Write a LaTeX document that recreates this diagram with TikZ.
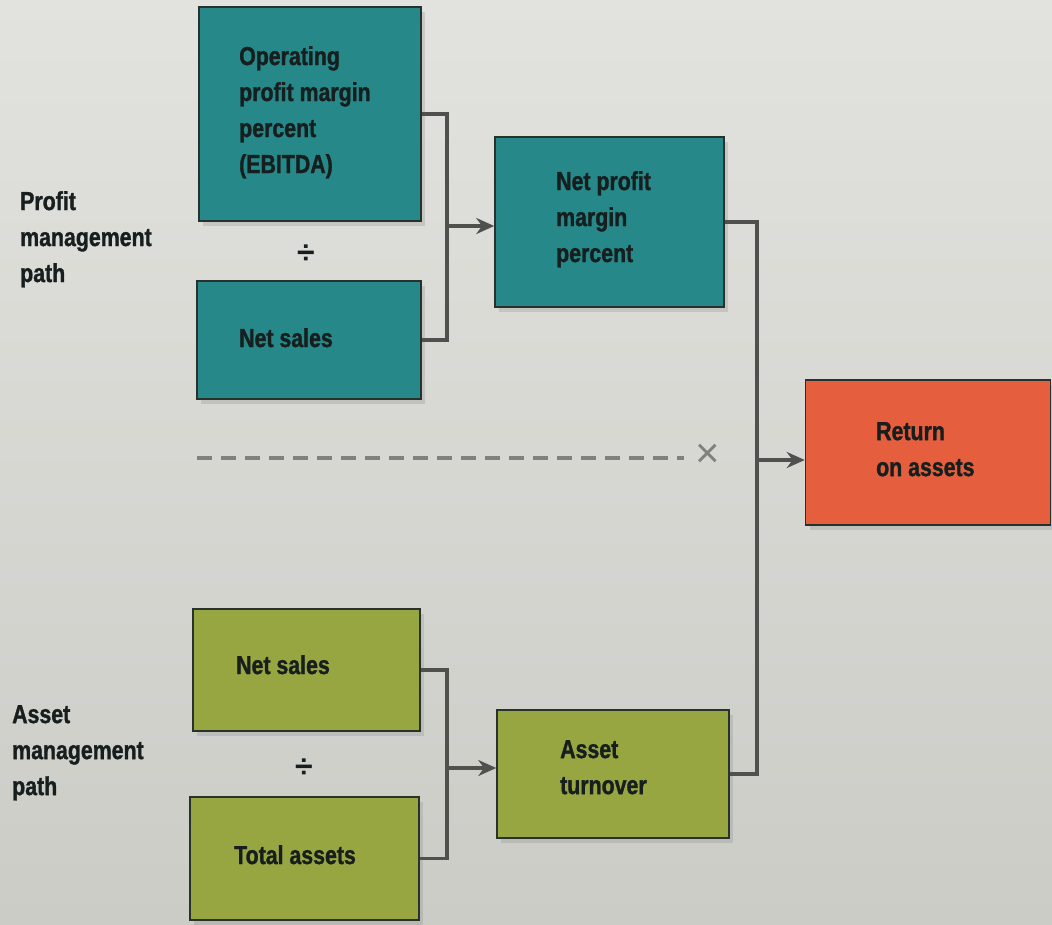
\documentclass[tikz,border=0pt]{standalone}
\usepackage{fontspec}
\newfontfamily\dfont{Liberation Sans}[FakeStretch=0.82,FakeBold=1.2]
\newfontfamily\sfont{Liberation Sans}
\usetikzlibrary{arrows.meta,shadows}
\definecolor{bgtop}{RGB}{226,226,222}
\definecolor{bgbot}{RGB}{204,204,199}
\definecolor{tealc}{RGB}{38,136,137}
\definecolor{greenc}{RGB}{152,166,66}
\definecolor{roac}{RGB}{229,94,62}
\definecolor{txtc}{RGB}{22,30,30}
\definecolor{linec}{RGB}{80,80,78}
\definecolor{edgec}{RGB}{40,50,45}
\definecolor{dashc}{RGB}{128,128,125}
\begin{document}
\begin{tikzpicture}[x=1pt,y=-1pt,
 box/.style={rectangle, draw=edgec, line width=1.5pt, inner sep=0pt,
   drop shadow={opacity=0.25,shadow xshift=4pt,shadow yshift=-5pt}},
 tealbox/.style={box, fill=tealc},
 greenbox/.style={box, fill=greenc},
 roabox/.style={box, fill=roac},
 lbl/.style={anchor=north west, inner sep=0pt, align=left, text=txtc,
   font=\dfont\bfseries\fontsize{26}{36}\selectfont},
 divsign/.style={inner sep=0pt, text=txtc, font=\sfont\bfseries\fontsize{32}{32}\selectfont},
 conn/.style={draw=linec, line width=3.5pt},
 arr/.style={conn, -{Stealth[length=18pt,width=16pt]}}
]
\shade[top color=bgtop,bottom color=bgbot] (0,0) rectangle (1052,924);
\useasboundingbox (0,0) rectangle (1052,924);

% boxes
\node[tealbox, minimum width=222pt, minimum height=214pt] (A) at (310,114) {};
\node[tealbox, minimum width=224pt, minimum height=118pt] (B) at (309,340) {};
\node[tealbox, minimum width=229pt, minimum height=170pt] (NP) at (609.5,222) {};
\node[roabox, minimum width=245pt, minimum height=145pt] (ROA) at (928,452.5) {};
\node[greenbox, minimum width=227pt, minimum height=122pt] (GS) at (306.5,670) {};
\node[greenbox, minimum width=229pt, minimum height=123pt] (TA) at (304.5,858.5) {};
\node[greenbox, minimum width=232pt, minimum height=128pt] (AT) at (613,774) {};

% texts
\node[lbl] (tA) at (239,46) {Operating\\profit margin\\percent\\(EBITDA)};
\node[lbl] (tB) at (239,328) {Net sales};
\node[lbl] (tNP) at (556,171) {Net profit\\margin\\percent};
\node[lbl] (tROA) at (876,422) {Return\\on assets};
\node[lbl] (tGS) at (236,655) {Net sales};
\node[lbl] (tTA) at (234,845) {Total assets};
\node[lbl] (tAT) at (560,740) {Asset\\turnover};
\node[lbl] (pp) at (20,191) {Profit\\management\\path};
\node[lbl] (ap) at (12,705) {Asset\\management\\path};

\node[divsign] (d1) at (306,254) {÷};
\node[divsign] (d2) at (304,768) {÷};

% dashed line and cross
\coordinate (ds) at (197,458);
\coordinate (de) at (684,458);
\draw[dashc, line width=3.5pt, dash pattern=on 15pt off 9pt] (ds) -- (de);
\node[inner sep=0pt, text=dashc, font=\sfont\fontsize{42}{42}\selectfont] (cross) at (708,456) {×};

% connectors
\coordinate (j1) at (447,226);
\draw[conn] (A.east) -| (j1) |- (B.east);
\draw[arr] (j1) -- (j1 -| NP.west);

\coordinate (j2) at (757,460);
\draw[conn] (NP.east) -| (j2) |- (AT.east);
\draw[arr] (j2) -- (j2 -| ROA.west);

\coordinate (j3) at (447,768);
\draw[conn] (GS.east) -| (j3) |- (TA.east);
\draw[arr] (j3) -- (j3 -| AT.west);
\end{tikzpicture}
\end{document}
